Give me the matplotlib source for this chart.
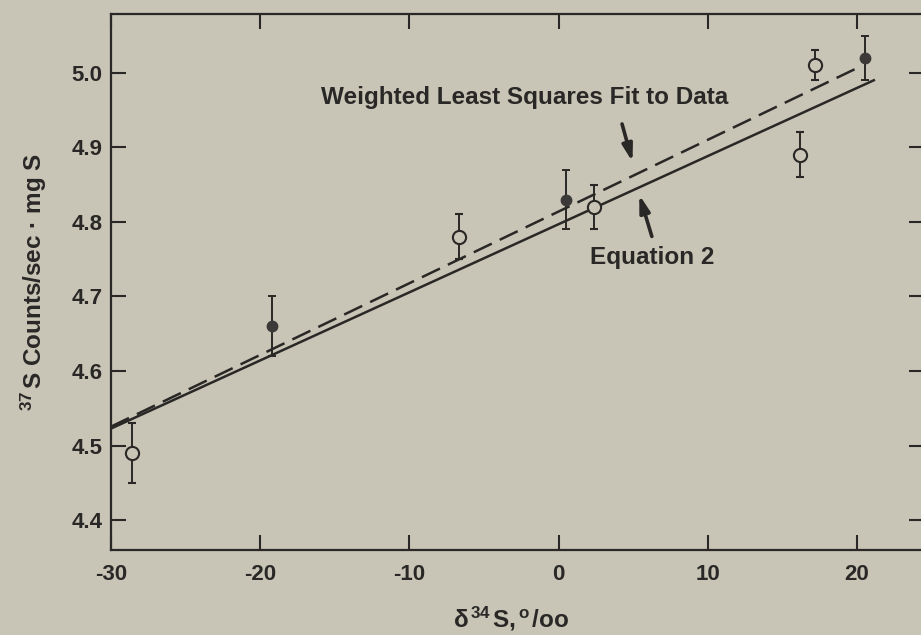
import numpy as np
import matplotlib.pyplot as plt

# delta 34S values and 37S count rates
open_x = [-28.6, -6.7, 2.4, 16.2, 17.2]
open_y = [4.49, 4.78, 4.82, 4.89, 5.01]
open_err = [0.04, 0.03, 0.03, 0.03, 0.02]

filled_x = [-19.2, 0.5, 20.5]
filled_y = [4.66, 4.83, 5.02]
filled_err = [0.04, 0.04, 0.03]

# straight lines: (slope, intercept at delta = 0, x range)
eq2_slope, eq2_icpt = 0.00914, 4.797
eq2_range = [-30, 21.2]
wls_slope, wls_icpt = 0.00962, 4.814
wls_range = [-30, 20.2]

x_ticks = [-30, -20, -10, 0, 10, 20]
y_ticks = [4.4, 4.5, 4.6, 4.7, 4.8, 4.9, 5.0]

bg = '#c8c5b6'
ink = '#2a2826'

plt.rcParams['font.family'] = ['Liberation Sans', 'DejaVu Sans']
plt.rcParams['mathtext.fontset'] = 'custom'
plt.rcParams['mathtext.rm'] = 'Liberation Sans:bold'
plt.rcParams['mathtext.it'] = 'Liberation Sans:bold'
plt.rcParams['mathtext.bf'] = 'Liberation Sans:bold'
plt.rcParams['mathtext.default'] = 'rm'

fig = plt.figure(figsize=(9.21, 6.35), dpi=100, facecolor=bg)
ax = fig.add_axes([0.1205, 0.134, 0.883, 0.844], facecolor=bg)

xs = np.array(eq2_range)
ax.plot(xs, eq2_icpt + eq2_slope * xs, color=ink, lw=1.8, solid_capstyle='butt')
xs = np.array(wls_range)
ax.plot(xs, wls_icpt + wls_slope * xs, color=ink, lw=1.8, dashes=(8, 3.5))

ax.errorbar(open_x, open_y, yerr=open_err, fmt='o', ms=9.5, mfc=bg, mec=ink,
            mew=1.5, ecolor=ink, elinewidth=1.4, capsize=3, capthick=1.4, zorder=3)
ax.errorbar(filled_x, filled_y, yerr=filled_err, fmt='o', ms=7.5, mfc='#3c3a38',
            mec='#3c3a38', ecolor=ink, elinewidth=1.4, capsize=3, capthick=1.4, zorder=3)

ax.set_xlim(-30, 24.5)
ax.set_ylim(4.36, 5.079)
ax.set_xticks(x_ticks)
ax.set_yticks(y_ticks)
ax.set_xticklabels([str(t) for t in x_ticks])
ax.set_yticklabels(['%.1f' % t for t in y_ticks])
ax.tick_params(direction='in', length=11, width=1.5, color=ink, top=True, right=True,
               labelsize=16, labelcolor=ink)
ax.tick_params(axis='x', pad=10)
ax.tick_params(axis='y', pad=6)
for lab in ax.get_xticklabels() + ax.get_yticklabels():
    lab.set_fontweight('bold')
for s in ax.spines.values():
    s.set_color(ink)
    s.set_linewidth(1.6)

ax.set_xlabel(r'δ$^{\,34\,}$S,$^{\,o\,}$/oo', fontsize=17.5, fontweight='bold', color=ink)
ax.xaxis.set_label_coords(0.492, -0.102)
ax.set_ylabel(r'$^{37\,}$S Counts/sec · mg S', fontsize=17.5, fontweight='bold', color=ink, labelpad=16)

ax.text(-2.3, 4.967, 'Weighted Least Squares Fit to Data', ha='center', va='center',
        fontsize=17.5, fontweight='bold', color=ink)
ax.annotate('', xy=(5.0, 4.877), xytext=(4.2, 4.935),
            arrowprops=dict(arrowstyle='-|>,head_length=1.0,head_width=0.3', lw=2.6, color=ink))
ax.text(6.3, 4.752, 'Equation 2', ha='center', va='center',
        fontsize=17.5, fontweight='bold', color=ink)
ax.annotate('', xy=(5.35, 4.840), xytext=(6.3, 4.777),
            arrowprops=dict(arrowstyle='-|>,head_length=1.0,head_width=0.3', lw=2.6, color=ink))

fig.savefig('out.png', dpi=100, facecolor=bg)
